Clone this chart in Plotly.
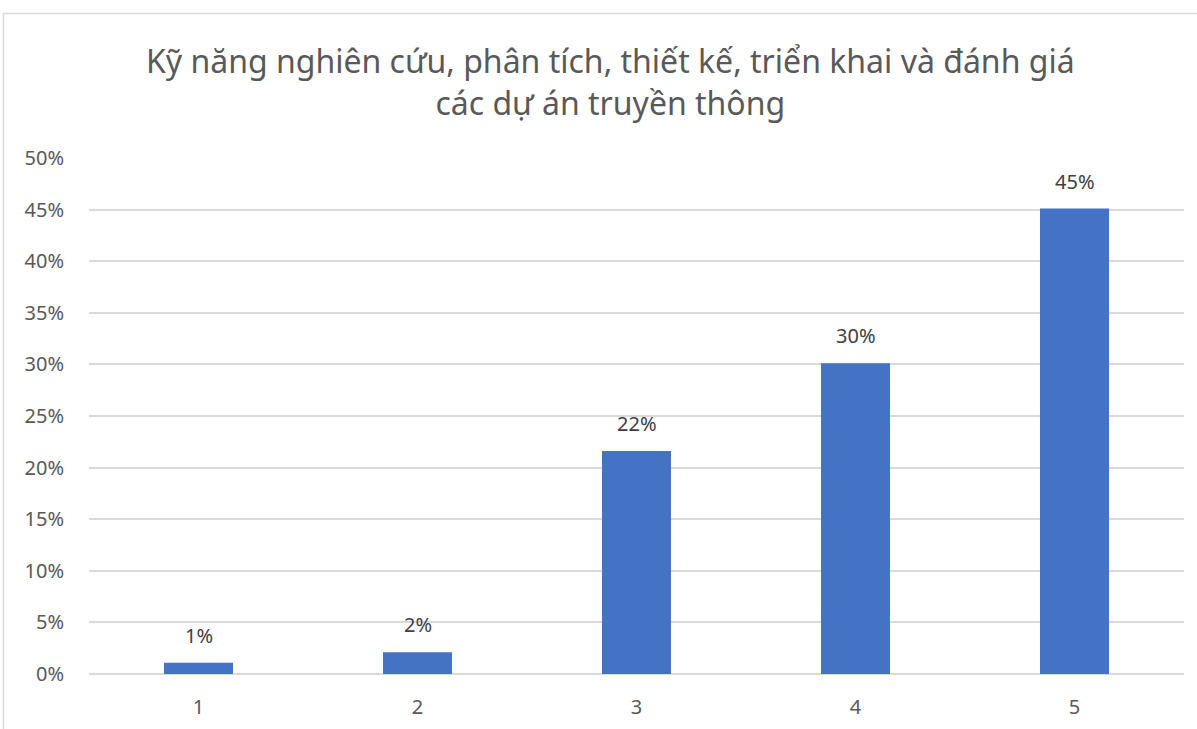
import plotly.graph_objects as go

# Survey rating levels and share of responses for each level
levels = ["1", "2", "3", "4", "5"]
shares = [0.011, 0.021, 0.216, 0.301, 0.451]
tick_values = [0, 0.05, 0.10, 0.15, 0.20, 0.25, 0.30, 0.35, 0.40, 0.45, 0.50]
tick_labels = ["0%", "5%", "10%", "15%", "20%", "25%", "30%", "35%", "40%", "45%", "50%"]

title_text = ("Kỹ năng nghiên cứu, phân tích, thiết kế, triển khai và đánh giá"
              "<br>các dự án truyền thông")

W, H = 1197, 729
L, R, T, B = 89, 13, 158, 55
pw, ph = W - L - R, H - T - B


def px_x(x):
    return (x - L) / pw


def px_y(y):
    return (H - B - y) / ph


font_family = "Noto Sans, Open Sans, sans-serif"

fig = go.Figure(
    go.Bar(
        x=levels,
        y=shares,
        marker=dict(color="#4472C4", line=dict(width=0)),
        width=0.315,
        hoverinfo="x+y",
    )
)

# value labels sitting a little above each bar (x given as category index)
value_labels = [
    dict(
        x=i,
        y=val,
        xref="x",
        yref="y",
        text=f"{round(val * 100)}%",
        showarrow=False,
        xanchor="center",
        yanchor="bottom",
        yshift=12,
        font=dict(family=font_family, size=20, color="#404040"),
    )
    for i, val in enumerate(shares)
]

title_annotation = dict(
    text=title_text,
    x=px_x(610),
    y=px_y(82),
    xref="paper",
    yref="paper",
    xanchor="center",
    yanchor="middle",
    showarrow=False,
    align="center",
    font=dict(family=font_family, size=32, color="#595959"),
)

fig.update_layout(
    width=W,
    height=H,
    margin=dict(l=L, r=R, t=T, b=B, autoexpand=False),
    paper_bgcolor="white",
    plot_bgcolor="white",
    showlegend=False,
    font=dict(family=font_family, color="#595959"),
    xaxis=dict(
        type="category",
        range=[-0.5, len(levels) - 0.5],
        showgrid=False,
        showline=False,
        ticks="",
        tickfont=dict(size=20, color="#595959"),
        ticklabelstandoff=19,
        automargin=False,
    ),
    yaxis=dict(
        range=[0, 0.5],
        tickvals=tick_values,
        ticktext=tick_labels,
        showgrid=True,
        gridcolor="#d9d9d9",
        gridwidth=1.5,
        zeroline=True,
        zerolinecolor="#d9d9d9",
        zerolinewidth=1.5,
        showline=False,
        ticks="",
        tickfont=dict(size=20, color="#595959"),
        ticklabelstandoff=24,
        automargin=False,
    ),
    annotations=value_labels + [title_annotation],
    shapes=[
        dict(
            type="rect",
            xref="paper",
            yref="paper",
            x0=px_x(3.5),
            x1=px_x(1230),
            y0=px_y(745),
            y1=px_y(13.5),
            line=dict(color="#d9d9d9", width=1.5),
            fillcolor="rgba(0,0,0,0)",
            layer="below",
        )
    ],
)

fig.write_html("out.html")
